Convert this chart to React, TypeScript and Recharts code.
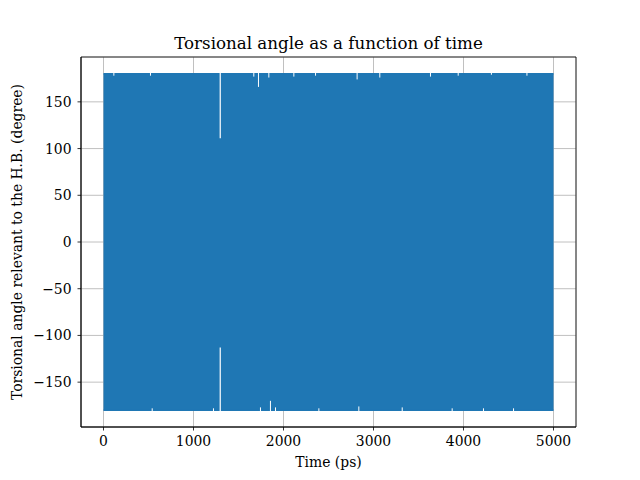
import React from "react";
import {
  ComposedChart,
  Area,
  XAxis,
  YAxis,
  CartesianGrid,
  ReferenceLine,
  ReferenceArea,
} from "recharts";

// envelope of the dense torsion trace (it swings between -180 and 180 all the time)
const envelopeTimes = [0, 5000];
const envelopeLow = [-180, -180];
const envelopeHigh = [180, 180];

// the one spot (~1297 ps) where the trace stays near +/-180
const gapTime = 1297;
const gapUpper = 111;
const gapLower = -113;

// small dips at the top and bottom edges
const topNotchTimes = [115, 522, 1670, 1722, 1837, 2115, 2356, 2818, 3070, 3633, 3941, 4310, 4705];
const topNotchValues = [178, 178, 177, 166, 176, 177, 178, 174, 176, 177, 178, 179, 178];
const bottomNotchTimes = [541, 1222, 1744, 1855, 1911, 2393, 2837, 3319, 3874, 4222, 4556];
const bottomNotchValues = [-178, -178, -177, -170, -177, -178, -176, -177, -178, -178, -178];

const xTicks = [0, 1000, 2000, 3000, 4000, 5000];
const yTicks = [-150, -100, -50, 0, 50, 100, 150];

const blue = "#1f77b4";
const font = "DejaVu Serif";

const data = envelopeTimes.map((t, i) => ({
  time: t,
  range: [envelopeLow[i], envelopeHigh[i]],
}));

const fmt = (v: number) => String(v).replace("-", "\u2212");

export default function App() {
  return (
    <div style={{ position: "absolute", left: 0, top: 0, width: 640, height: 480, background: "#fff" }}>
      <ComposedChart
        width={640}
        height={480}
        data={data}
        margin={{ top: 57, right: 64, left: 0, bottom: 0 }}
      >
        <CartesianGrid stroke="#b0b0b0" strokeWidth={0.8} />
        <XAxis
          dataKey="time"
          type="number"
          domain={[-250, 5250]}
          ticks={xTicks}
          height={53}
          tickSize={3.5}
          tickMargin={6}
          tick={{ fontSize: 13.9, fill: "#000", fontFamily: font }}
          axisLine={{ stroke: "#000", strokeWidth: 0.8 }}
          tickLine={{ stroke: "#000", strokeWidth: 0.8 }}
          allowDataOverflow
        />
        <YAxis
          type="number"
          domain={[-198, 198]}
          ticks={yTicks}
          width={81}
          tickSize={3.5}
          tickMargin={6}
          tickFormatter={fmt}
          tick={{ fontSize: 13.9, fill: "#000", fontFamily: font }}
          axisLine={{ stroke: "#000", strokeWidth: 0.8 }}
          tickLine={{ stroke: "#000", strokeWidth: 0.8 }}
          allowDataOverflow
        />
        <Area
          dataKey="range"
          type="linear"
          stroke={blue}
          strokeWidth={1.5}
          fill={blue}
          fillOpacity={1}
          isAnimationActive={false}
          dot={false}
          activeDot={false}
        />
        <ReferenceLine
          segment={[{ x: gapTime, y: 182 }, { x: gapTime, y: gapUpper }]}
          stroke="#fff"
          strokeWidth={1.2}
          ifOverflow="visible"
        />
        <ReferenceLine
          segment={[{ x: gapTime, y: -182 }, { x: gapTime, y: gapLower }]}
          stroke="#fff"
          strokeWidth={1.2}
          ifOverflow="visible"
        />
        {topNotchTimes.map((t, i) => (
          <ReferenceLine
            key={"t" + t}
            segment={[{ x: t, y: 182 }, { x: t, y: topNotchValues[i] }]}
            stroke="#fff"
            strokeWidth={1}
            ifOverflow="visible"
          />
        ))}
        {bottomNotchTimes.map((t, i) => (
          <ReferenceLine
            key={"b" + t}
            segment={[{ x: t, y: -182 }, { x: t, y: bottomNotchValues[i] }]}
            stroke="#fff"
            strokeWidth={1}
            ifOverflow="visible"
          />
        ))}
        <ReferenceArea
          x1={-250}
          x2={5250}
          y1={-198}
          y2={198}
          fill="none"
          stroke="#000"
          strokeWidth={0.8}
          ifOverflow="visible"
        />
      </ComposedChart>
      <svg
        width={640}
        height={480}
        style={{ position: "absolute", left: 0, top: 0, pointerEvents: "none" }}
      >
        <text x={328.5} y={49} textAnchor="middle" fontFamily={font} fontSize={16.7} fill="#000">
          Torsional angle as a function of time
        </text>
        <text x={328.5} y={467} textAnchor="middle" fontFamily={font} fontSize={13.9} fill="#000">
          Time (ps)
        </text>
        <text
          x={22}
          y={242}
          textAnchor="middle"
          fontFamily={font}
          fontSize={13.9}
          fill="#000"
          transform="rotate(-90 22 242)"
        >
          Torsional angle relevant to the H.B. (degree)
        </text>
      </svg>
    </div>
  );
}
